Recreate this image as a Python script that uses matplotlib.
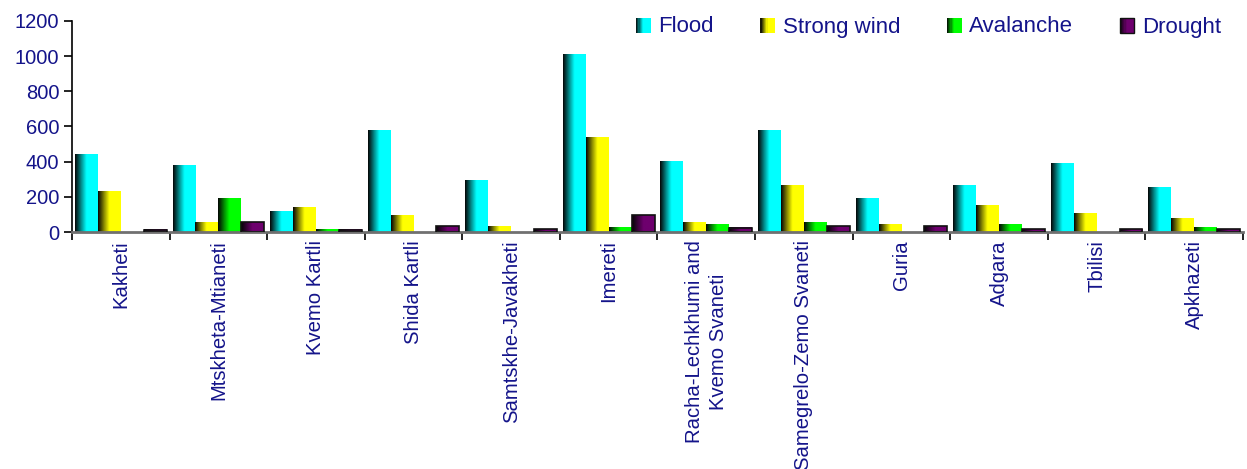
import matplotlib
matplotlib.use("Agg")
import matplotlib.pyplot as plt
import numpy as np
from matplotlib.colors import LinearSegmentedColormap
from matplotlib.legend_handler import HandlerBase
from matplotlib.patches import Rectangle


REGIONS = [
    "Kakheti",
    "Mtskheta-Mtianeti",
    "Kvemo Kartli",
    "Shida Kartli",
    "Samtskhe-Javakheti",
    "Imereti",
    "Racha-Lechkhumi and\nKvemo Svaneti",
    "Samegrelo-Zemo Svaneti",
    "Guria",
    "Adgara",
    "Tbilisi",
    "Apkhazeti",
]
SERIES = ["Flood", "Strong wind", "Avalanche", "Drought"]
FLOOD = [443, 380, 118, 580, 295, 1012, 402, 580, 193, 266, 392, 255]
STRONG_WIND = [228, 56, 141, 96, 33, 540, 56, 267, 45, 153, 107, 79]
AVALANCHE = [0, 193, 14, 0, 0, 27, 44, 56, 0, 44, 0, 27]
DROUGHT = [14, 56, 14, 33, 15, 95, 25, 33, 33, 15, 15, 15]
Y_TICKS = [0, 200, 400, 600, 800, 1000, 1200]

COLORS = ["#00FFFF", "#FFFF00", "#00FF00", "#6E006E"]
TEXT = "#14148A"


def gradient_cmap(color):
    # dark on the left edge, full colour from about the middle
    return LinearSegmentedColormap.from_list(
        "g", [(0.0, "#050505"), (0.5, color), (1.0, color)]
    )


class GradientHandler(HandlerBase):
    def __init__(self, color, edge=False):
        super().__init__()
        self.cmap = gradient_cmap(color)
        self.edge = edge

    def create_artists(self, legend, orig, xd, yd, w, h, fontsize, trans):
        n = 12
        side = min(w, h)
        x0 = xd + (w - side) / 2
        arts = []
        for i in range(n):
            r = Rectangle(
                (x0 + side * i / n, yd + (h - side) / 2), side / n + 0.3, side,
                facecolor=self.cmap((i + 0.5) / n), edgecolor="none",
                transform=trans,
            )
            arts.append(r)
        if self.edge:
            arts.append(Rectangle((x0, yd + (h - side) / 2), side, side,
                                  facecolor="none", edgecolor="#111111",
                                  linewidth=1.0, transform=trans))
        return arts


plt.rcParams.update({
    "font.family": ["Liberation Sans", "DejaVu Sans"],
    "font.size": 14,
})

fig = plt.figure(figsize=(12.47, 4.69), dpi=100)
ax = fig.add_axes([72 / 1247, 1 - 232 / 469, 1171 / 1247, 211 / 469])

x = np.arange(len(REGIONS))
width = 0.235
values = [FLOOD, STRONG_WIND, AVALANCHE, DROUGHT]
offsets = (np.arange(4) - 1.5) * width
gradient = np.linspace(0, 1, 64).reshape(1, -1)

proxies = []
for k, (vals, color) in enumerate(zip(values, COLORS)):
    bars = ax.bar(x + offsets[k], vals, width=width, color="none",
                  edgecolor="none", label=SERIES[k])
    proxies.append(bars[0])
    for patch in bars:
        bx, by = patch.get_x(), patch.get_y()
        bw, bh = patch.get_width(), patch.get_height()
        if bh <= 0:
            continue
        ax.imshow(gradient, extent=[bx, bx + bw, by, by + bh],
                  cmap=gradient_cmap(color), aspect="auto",
                  interpolation="bilinear", zorder=2)
        if k == 3:
            ax.add_patch(Rectangle((bx, by), bw, bh, facecolor="none",
                                   edgecolor="#111111", linewidth=1.2,
                                   zorder=3))

ax.set_xlim(-0.5, len(REGIONS) - 0.5)
ax.set_ylim(0, 1200)
ax.set_yticks(Y_TICKS)
ax.tick_params(axis="y", colors="black", labelcolor=TEXT, labelsize=14.5,
               length=6, width=1.2, direction="out", pad=3)

ax.set_xticks(x)
ax.set_xticklabels(REGIONS, rotation=90, va="top", ha="center",
                   multialignment="center", color=TEXT, fontsize=14.6,
                   linespacing=1.35)
ax.tick_params(axis="x", which="major", length=0, pad=6)
ax.set_xticks(np.arange(len(REGIONS) + 1) - 0.5, minor=True)
ax.tick_params(axis="x", which="minor", length=6, width=1.2, color="black")

for side in ["top", "right"]:
    ax.spines[side].set_visible(False)
ax.spines["left"].set_linewidth(1.2)
ax.spines["left"].set_color("black")
ax.spines["bottom"].set_linewidth(2.0)
ax.spines["bottom"].set_color("#707070")

handler_map = {p: GradientHandler(c, edge=(i == 3))
               for i, (p, c) in enumerate(zip(proxies, COLORS))}
fig.legend(
    proxies, SERIES,
    handler_map=handler_map,
    loc="center right",
    bbox_to_anchor=(1221 / 1247, 1 - 27 / 469),
    ncol=4,
    frameon=False,
    fontsize=16,
    labelcolor=TEXT,
    handlelength=0.65,
    handleheight=0.65,
    handletextpad=0.35,
    columnspacing=2.1,
    borderpad=0,
    borderaxespad=0,
)

fig.savefig("out.png", dpi=100)
